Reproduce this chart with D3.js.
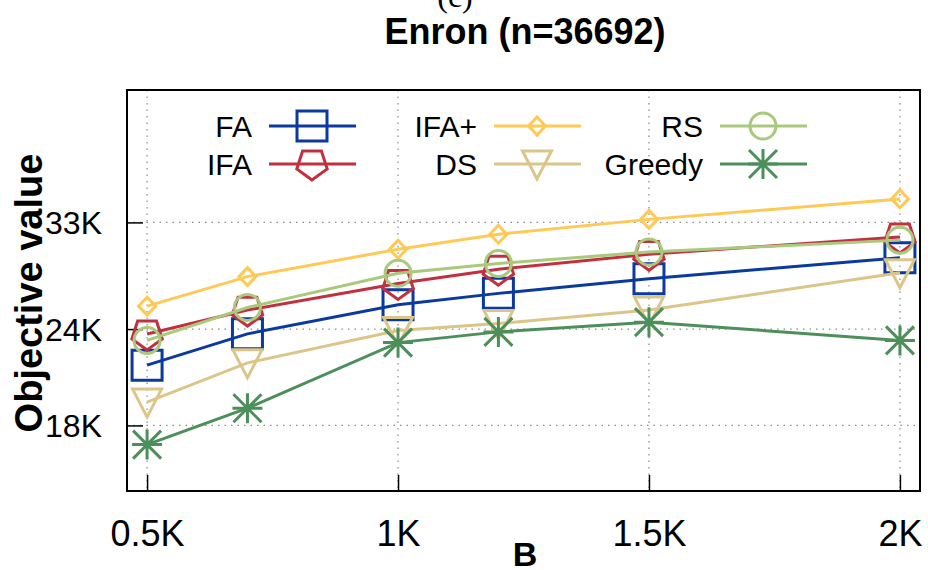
<!DOCTYPE html>
<html>
<head>
<meta charset="utf-8">
<script src="https://cdn.jsdelivr.net/npm/d3@7"></script>
<style>
  body { margin: 0; background: #fff; }
  svg { display: block; font-family: "Liberation Sans", Arial, sans-serif; }
</style>
</head>
<body>
<svg id="chart" width="928" height="570"></svg>
<script>
// values (objective value vs budget B)
const budgets = [500, 700, 1000, 1200, 1500, 2000];
const faValues = [21550, 23660, 25800, 26700, 27900, 29700];
const ifaValues = [23650, 25400, 27500, 28700, 30000, 31600];
const ifaPlusValues = [25700, 28070, 30460, 31860, 33300, 35400];
const dsValues = [19300, 21700, 23900, 24400, 25400, 28400];
const rsValues = [23200, 25600, 28350, 29200, 30200, 31300];
const greedyValues = [17000, 18950, 23050, 23800, 24500, 23200];

const seriesNames = ["FA", "IFA", "IFA+", "DS", "RS", "Greedy"];
const xTicks = [500, 1000, 1500, 2000];
const xTickLabels = ["0.5K", "1K", "1.5K", "2K"];
const yTicks = [18000, 24000, 33000];
const yTickLabels = ["18K", "24K", "33K"];

// styles
const colors = ["#0a3aa0", "#c2303f", "#ffc955", "#dcc588", "#a9c97c", "#4c8f5b"];
const shapes = ["square", "pentagon", "diamond", "triangle", "circle", "star"];
const allValues = [faValues, ifaValues, ifaPlusValues, dsValues, rsValues, greedyValues];

const plotLeft = 127, plotRight = 920, plotTop = 90, plotBottom = 491;

const svg = d3.select("#chart");

const x = d3.scaleLinear().domain([460, 2040]).range([plotLeft, plotRight]);
const y = d3.scaleLog().domain([14800, 49000]).range([plotBottom, plotTop]);

// marker outline paths, centred on 0,0
function markerPath(shape) {
  if (shape === "square") return "M-15,-15H15V15H-15Z";
  if (shape === "diamond") return "M0,-9L8.5,0L0,9L-8.5,0Z";
  if (shape === "triangle") return "M-14.5,-13H14.5L0,15Z";
  if (shape === "circle") return d3.arc()({innerRadius: 0, outerRadius: 13, startAngle: 0, endAngle: 2 * Math.PI});
  if (shape === "pentagon") {
    const r = 16;
    const pts = [90, 162, 234, 306, 18].map(a => [r * Math.cos(a * Math.PI / 180), r * Math.sin(a * Math.PI / 180)]);
    return "M" + pts.map(p => p.join(",")).join("L") + "Z";
  }
  // star: plus and cross
  return "M-15,0H15M0,-15V15M-14,-14L14,14M-14,14L14,-14";
}

function drawMarker(g, shape, cx, cy, color) {
  g.append("path")
    .attr("d", markerPath(shape))
    .attr("transform", `translate(${cx},${cy})`)
    .attr("fill", "none")
    .attr("stroke", color)
    .attr("stroke-width", 3);
}

// titles
svg.append("text")
  .attr("x", 455).attr("y", 7)
  .attr("text-anchor", "middle")
  .style("font-family", "'Liberation Serif', 'Times New Roman', serif")
  .style("font-size", "32px")
  .text("(c)");

svg.append("text")
  .attr("x", 525).attr("y", 44)
  .attr("text-anchor", "middle")
  .style("font-size", "36px").style("font-weight", "bold")
  .text("Enron (n=36692)");

// grid
const grid = svg.append("g")
  .attr("stroke", "#8a8a8a")
  .attr("stroke-width", 1.2)
  .attr("stroke-dasharray", "1.5,5");
yTicks.forEach(v => {
  grid.append("line").attr("x1", plotLeft).attr("x2", plotRight).attr("y1", y(v)).attr("y2", y(v));
});
xTicks.forEach(v => {
  grid.append("line").attr("x1", x(v)).attr("x2", x(v)).attr("y1", plotTop).attr("y2", plotBottom);
});

// axes (inward ticks)
const yAxis = svg.append("g")
  .attr("transform", `translate(${plotLeft},0)`)
  .call(d3.axisLeft(y).tickValues(yTicks).tickFormat((d, i) => yTickLabels[i])
    .tickSizeInner(-16).tickSizeOuter(0).tickPadding(25));
yAxis.select(".domain").remove();
yAxis.selectAll("line").attr("stroke", "#000").attr("stroke-width", 1.5);
yAxis.selectAll("text")
  .attr("dy", "0.36em")
  .style("font-family", "'Liberation Sans', Arial, sans-serif")
  .style("font-size", "32px").attr("fill", "#000");

const xAxis = svg.append("g")
  .attr("transform", `translate(0,${plotBottom})`)
  .call(d3.axisBottom(x).tickValues(xTicks).tickFormat((d, i) => xTickLabels[i])
    .tickSizeInner(-16).tickSizeOuter(0));
xAxis.select(".domain").remove();
xAxis.selectAll("line").attr("stroke", "#000").attr("stroke-width", 1.5);
xAxis.selectAll("text")
  .attr("y", 55).attr("dy", null)
  .style("font-family", "'Liberation Sans', Arial, sans-serif")
  .style("font-size", "36px").attr("fill", "#000");

// axis labels
svg.append("text")
  .attr("transform", "translate(42,293) rotate(-90)")
  .attr("text-anchor", "middle")
  .style("font-size", "38px").style("font-weight", "bold")
  .text("Objective value");

svg.append("text")
  .attr("x", 525).attr("y", 566)
  .attr("text-anchor", "middle")
  .style("font-size", "34px").style("font-weight", "bold")
  .text("B");

// series
const line = d3.line().x(d => x(d[0])).y(d => y(d[1]));
const plot = svg.append("g");
allValues.forEach((vals, s) => {
  const pts = budgets.map((b, i) => [b, vals[i]]);
  plot.append("path")
    .attr("d", line(pts))
    .attr("fill", "none")
    .attr("stroke", colors[s])
    .attr("stroke-width", 3);
  pts.forEach(p => drawMarker(plot, shapes[s], x(p[0]), y(p[1]), colors[s]));
});

// legend, three columns of two
const legendTextRight = [252, 477, 703];
const legendRows = [126, 164];
const legend = svg.append("g");
seriesNames.forEach((name, s) => {
  const col = Math.floor(s / 2), row = s % 2;
  const tx = legendTextRight[col], ty = legendRows[row];
  legend.append("text")
    .attr("x", tx).attr("y", ty).attr("dy", "0.36em")
    .attr("text-anchor", "end")
    .style("font-size", "30px")
    .text(name);
  legend.append("line")
    .attr("x1", tx + 17).attr("x2", tx + 104)
    .attr("y1", ty).attr("y2", ty)
    .attr("stroke", colors[s]).attr("stroke-width", 3);
  drawMarker(legend, shapes[s], tx + 60, ty, colors[s]);
});

// border
svg.append("rect")
  .attr("x", plotLeft).attr("y", plotTop)
  .attr("width", plotRight - plotLeft).attr("height", plotBottom - plotTop)
  .attr("fill", "none")
  .attr("stroke", "#000")
  .attr("stroke-width", 2);
</script>
</body>
</html>
